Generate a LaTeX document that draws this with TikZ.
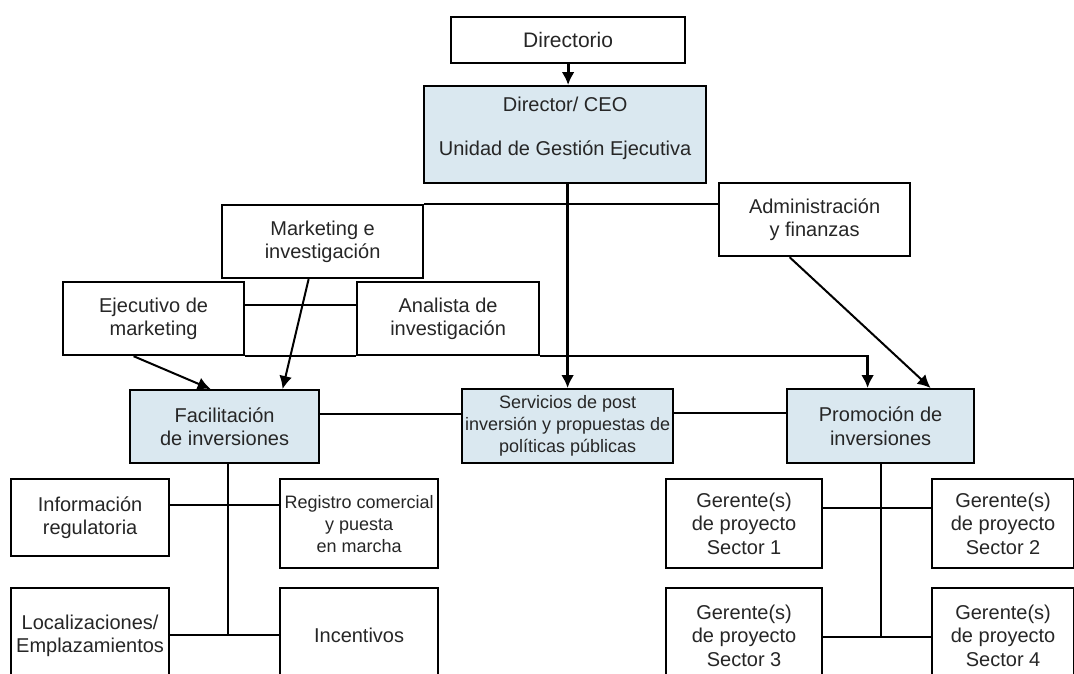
\documentclass[tikz,border=0pt]{standalone}
\usepackage{fontspec}
\setmainfont{Liberation Sans}
\usetikzlibrary{arrows.meta}
\definecolor{paleblue}{RGB}{218,232,240}

\begin{document}
\begin{tikzpicture}[x=1pt, y=-1pt, >={Latex[length=13pt,width=13pt]},
    box/.style={draw, line width=2.2pt, fill=white, anchor=north west, inner sep=0pt,
        align=center, text=black!85, font=\fontsize{20}{23.5}\selectfont},
    unit/.style={box, fill=paleblue},
    small/.style={font=\fontsize{18}{22}\selectfont},
    link/.style={line width=2pt},
    main/.style={line width=2.8pt}]
    \useasboundingbox (0,0) rectangle (1074,673);
    \clip (0,0) rectangle (1074,673);

    % Top of the chart
    \node[box, minimum width=234pt, minimum height=46pt, font=\fontsize{21}{24}\selectfont] (dir) at (450,16) {Directorio};
    \node[unit, minimum width=282pt, minimum height=97pt, text depth=16pt] (ceo) at (423,85) {Director/ CEO\\[20.5pt]Unidad de Gestión Ejecutiva};

    % Support staff
    \node[box, minimum width=201pt, minimum height=73pt] (mkt) at (221,204) {Marketing e\\investigación};
    \node[box, minimum width=191pt, minimum height=73pt] (adm) at (718,182) {Administración\\y finanzas};
    \node[box, minimum width=181pt, minimum height=73pt] (ejec) at (62,281) {Ejecutivo de\\marketing};
    \node[box, minimum width=182pt, minimum height=73pt] (ana) at (356,281) {Analista de\\investigación};

    % Operating units (blue)
    \node[unit, minimum width=189pt, minimum height=73pt] (fac) at (129,389) {Facilitación\\de inversiones};
    \node[unit, small, minimum width=211pt, minimum height=74pt] (serv) at (461,388) {Servicios de post\\inversión y propuestas de\\políticas públicas};
    \node[unit, minimum width=187pt, minimum height=74pt] (prom) at (786,388) {Promoción de\\inversiones};

    % Under facilitation
    \node[box, minimum width=158pt, minimum height=77pt] (info) at (10,478) {Información\\regulatoria};
    \node[box, small, minimum width=158pt, minimum height=89pt] (reg) at (279,478) {Registro comercial\\y puesta\\en marcha};
    \node[box, minimum width=158pt, minimum height=95pt] (loc) at (10,587) {Localizaciones/\\Emplazamientos};
    \node[box, minimum width=158pt, minimum height=95pt] (inc) at (279,587) {Incentivos};

    % Under promotion
    \node[box, minimum width=156pt, minimum height=89pt] (ger1) at (665,478) {Gerente(s)\\de proyecto\\Sector 1};
    \node[box, minimum width=142pt, minimum height=89pt] (ger2) at (931,478) {Gerente(s)\\de proyecto\\Sector 2};
    \node[box, minimum width=156pt, minimum height=95pt] (ger3) at (665,587) {Gerente(s)\\de proyecto\\Sector 3};
    \node[box, minimum width=142pt, minimum height=95pt] (ger4) at (931,587) {Gerente(s)\\de proyecto\\Sector 4};

    \coordinate (pin) at ([xshift=-13pt]prom.north);
    \coordinate (facdown) at ([xshift=3pt]fac.south);

    % Main chain
    \draw[main, ->] (dir.south) -- (dir.south |- ceo.north);
    \draw[main, ->] (serv.north |- ceo.south) -- (serv.north);
    \draw[link] (mkt.north east) -- (mkt.north east -| adm.west);
    \draw[link] ([yshift=-24pt]ejec.north east) -- ([yshift=-24pt]ana.north west);
    \draw[link] (ejec.south east) -- (ana.south west);
    \draw[link] (ana.south east) -- (ana.south east -| pin);
    \draw[main, ->] ([yshift=1pt]ana.south east -| pin) -- (pin);

    % Slanted arrows
    \draw[link, ->] ([xshift=-20pt]ejec.south) -- ([xshift=-14pt]fac.north);
    \draw[link, ->] ([xshift=-14pt]mkt.south) -- ([xshift=58pt]fac.north);
    \draw[link, ->] ([xshift=-25pt]adm.south) -- ([xshift=50pt]prom.north);

    % Units side by side
    \draw[link] ([yshift=13pt]fac.east) -- ([yshift=13pt]fac.east -| serv.west);
    \draw[link] ([yshift=13pt]serv.east) -- ([yshift=13pt]serv.east -| prom.west);

    % Facilitation tree
    \draw[link] (facdown) -- (facdown |- 0,635);
    \draw[link] ([yshift=-27pt]info.north east) -- ([yshift=-27pt]reg.north west);
    \draw[link] ([yshift=-48pt]loc.north east) -- ([yshift=-48pt]inc.north west);

    % Promotion tree
    \draw[link] (prom.south) -- (prom.south |- 0,637);
    \draw[link] ([yshift=-30pt]ger1.north east) -- ([yshift=-30pt]ger2.north west);
    \draw[link] ([yshift=-50pt]ger3.north east) -- ([yshift=-50pt]ger4.north west);
\end{tikzpicture}
\end{document}
